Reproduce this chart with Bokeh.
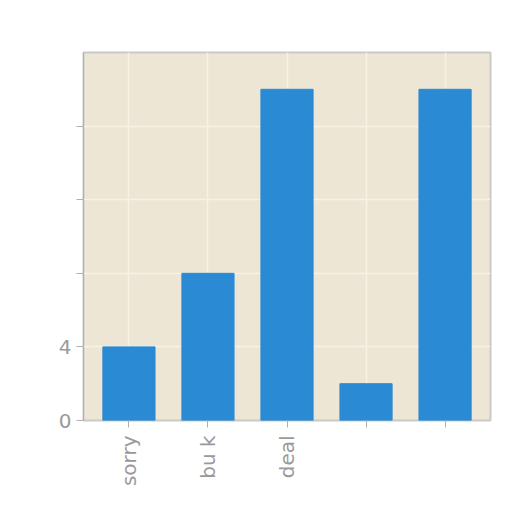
import math

from bokeh.plotting import figure
from bokeh.models import Range1d, FixedTicker
from bokeh.embed import file_html
from bokeh.resources import INLINE

# the last two labels are unreadable in the source, kept as blank factors
categories = ["sorry", "bu k", "deal", " ", "  "]
counts = [4, 8, 18, 2, 18]
y_ticks = [0, 4, 8, 12, 16]
y_tick_labels = {0: "0", 4: "4", 8: "", 12: "", 16: ""}

p = figure(x_range=categories, y_range=Range1d(0, 20),
           width=504, height=504, frame_width=407, frame_height=368,
           min_border_left=83, min_border_top=52, min_border_right=14, min_border_bottom=84,
           output_backend="svg", toolbar_location=None)
p.x_range.range_padding = 0.03

p.vbar(x=categories, top=counts, width=0.66, color="#2a8ad3")

p.background_fill_color = "#ede6d5"
p.border_fill_color = "white"
p.outline_line_color = "#c9c9c9"
p.outline_line_width = 2

p.xgrid.grid_line_color = "#f7f2e6"
p.ygrid.grid_line_color = "#f7f2e6"
p.xgrid.grid_line_width = 1.5
p.ygrid.grid_line_width = 1.5

p.yaxis.ticker = FixedTicker(ticks=y_ticks)
p.yaxis.major_label_overrides = y_tick_labels
p.xaxis.major_label_orientation = math.pi / 2
p.xaxis.major_label_standoff = 8

for ax in (p.xaxis, p.yaxis):
    ax.axis_line_color = "#b0b0b0"
    ax.major_tick_line_color = "#b0b0b0"
    ax.major_tick_out = 7
    ax.major_tick_in = 0
    ax.minor_tick_line_color = None
    ax.major_label_text_color = "#9a9a9a"
    ax.major_label_text_font_size = "20px"
    ax.major_label_text_font = "DejaVu Sans"
p.xaxis.axis_line_color = None

open("out.html", "w").write(file_html(p, INLINE))
